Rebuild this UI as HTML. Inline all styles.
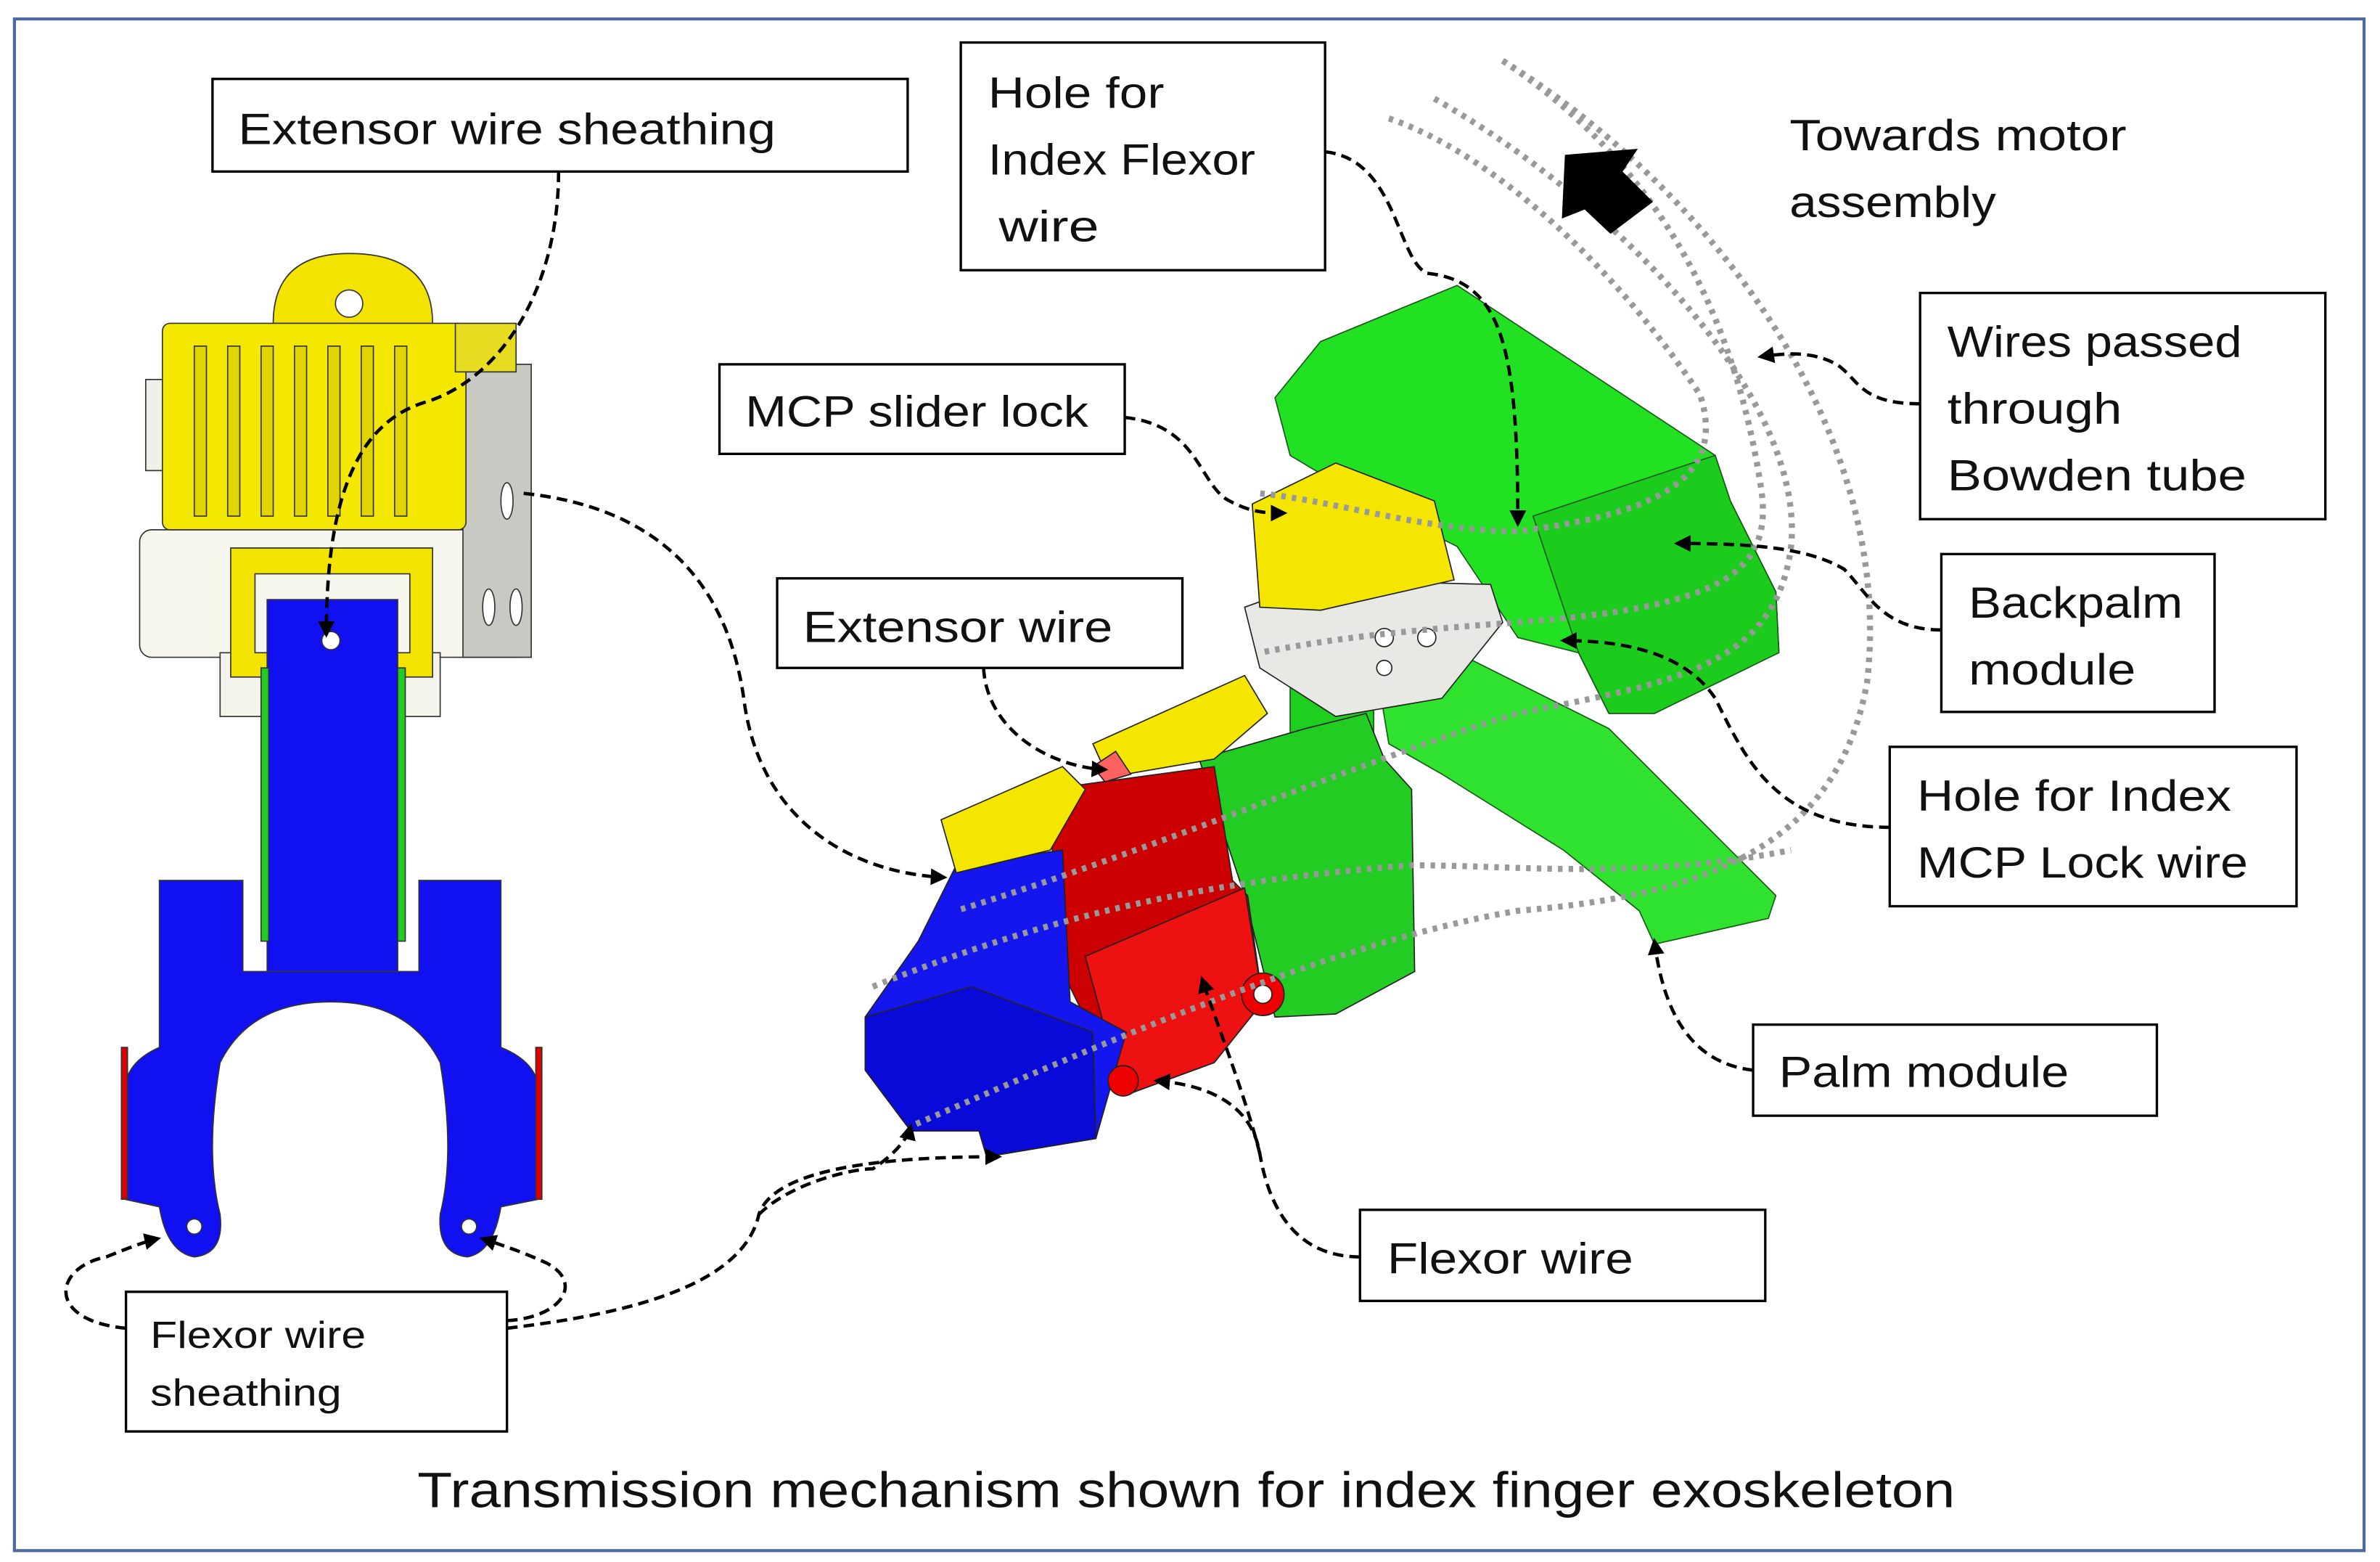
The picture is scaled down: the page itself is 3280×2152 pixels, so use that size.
<!DOCTYPE html>
<html><head><meta charset="utf-8"><style>
html,body{margin:0;padding:0;background:#fff;}
svg{display:block;}
text{font-family:"Liberation Sans",sans-serif;fill:#111;}
</style></head><body>
<svg width="3280" height="2152" viewBox="0 0 1568 1029" preserveAspectRatio="none" xmlns="http://www.w3.org/2000/svg">
<defs>
<marker id="ah" viewBox="0 0 10 10" refX="8" refY="5" markerWidth="5" markerHeight="5" orient="auto-start-reverse"><path d="M0,0 L10,5 L0,10 z" fill="#000"/></marker>
</defs>
<rect x="0" y="0" width="1568" height="1029" fill="#fff"/>
<rect x="9.5" y="12.5" width="1548" height="1009" fill="none" stroke="#4a6aa0" stroke-width="2"/>

<!-- LEFT DEVICE -->
<g stroke="#333" stroke-width="0.8">
<rect x="92" y="349" width="258" height="84" rx="8" fill="#f6f6ee"/>
<rect x="145" y="430" width="145" height="42" fill="#f4f4ec"/>
<rect x="305" y="240" width="45" height="193" fill="#c9c9c4"/>
<rect x="96" y="250" width="12" height="60" fill="#f0f0ea"/>
<path d="M180,213 Q180,167 230,167 Q285,167 285,213 Z" fill="#f2e400"/>
<circle cx="230" cy="200" r="9" fill="#fff"/>
<rect x="107" y="213" width="200" height="136" rx="5" fill="#f5e800"/>
<rect x="300" y="213" width="40" height="32" fill="#e8dc20"/>
<g fill="#e2d400">
<rect x="128" y="228" width="8" height="112"/><rect x="150" y="228" width="8" height="112"/><rect x="172" y="228" width="8" height="112"/><rect x="194" y="228" width="8" height="112"/><rect x="216" y="228" width="8" height="112"/><rect x="238" y="228" width="8" height="112"/><rect x="260" y="228" width="8" height="112"/>
</g>
<ellipse cx="334" cy="330" rx="4" ry="12" fill="#fff"/><ellipse cx="322" cy="400" rx="4" ry="12" fill="#fff"/><ellipse cx="340" cy="400" rx="4" ry="12" fill="#fff"/>
<path d="M152,361 H285 V446 H240 V430 H270 V378 H168 V430 H198 V446 H152 Z" fill="#f2e400"/>
<path d="M176,640 V395 H262 V640 Z" fill="#1010f0"/>
<rect x="172" y="440" width="5" height="180" fill="#22cc22"/><rect x="262" y="440" width="5" height="180" fill="#22cc22"/>
<circle cx="218" cy="422" r="6" fill="#fff"/>
<path d="M105,580 H160 V640 H276 V580 H330 V690 Q355,700 355,720 V790 L330,795 Q325,825 308,828 Q288,826 290,800 Q300,760 290,700 Q270,660 218,660 Q165,660 145,700 Q135,760 145,800 Q148,826 128,828 Q110,825 105,795 L82,790 V720 Q82,700 105,690 Z" fill="#1010f0"/>
<circle cx="128" cy="808" r="5" fill="#fff"/><circle cx="309" cy="808" r="5" fill="#fff"/>
<rect x="80" y="690" width="4" height="100" fill="#d00"/><rect x="353" y="690" width="4" height="100" fill="#d00"/>
</g>

<!-- RIGHT GREEN BACKPALM -->
<g stroke="#1a5a1a" stroke-width="0.8">
<path d="M840,262 L870,225 L960,188 L1130,300 L1140,330 L1170,390 L1172,430 L1150,440 L1090,470 L1060,470 L1040,430 L1000,420 L960,360 L900,330 L850,300 Z" fill="#22e022"/>
<path d="M1010,340 L1130,300 L1140,330 L1170,390 L1172,430 L1090,470 L1060,470 L1040,430 Z" fill="#1ccc1c"/>
<path d="M910,460 L960,430 L1060,480 L1140,560 L1170,590 L1165,605 L1090,622 L1080,600 L1030,560 L950,510 L915,490 Z" fill="#2ee22e"/>
<rect x="850" y="420" width="55" height="110" fill="#1fcf1f"/>
</g>
<!-- MIDDLE DEVICE -->
<g stroke="#222" stroke-width="0.8">
<path d="M790,500 L860,480 L900,470 L912,500 L930,520 L932,640 L880,668 L840,670 L820,590 Z" fill="#22cc22"/>
<path d="M690,520 L800,505 L812,580 L822,590 L832,660 L800,700 L740,722 L700,640 Z" fill="#cc0000"/>
<path d="M715,630 L820,585 L832,660 L800,700 L740,722 Z" fill="#ee1111"/>
<path d="M570,670 L605,620 L630,570 L700,560 L705,660 L742,680 L722,750 L650,762 L645,745 L600,745 L570,705 Z" fill="#1515ee"/>
<path d="M570,670 L640,650 L720,680 L722,750 L650,762 L645,745 L600,745 L570,705 Z" fill="#0a0ad8"/>
<circle cx="740" cy="712" r="10" fill="#e00"/><circle cx="832" cy="655" r="14" fill="#e00"/><circle cx="832" cy="655" r="6" fill="#fff"/>
<path d="M620,540 L700,505 L715,520 L692,560 L630,575 Z" fill="#f5e600"/>
<path d="M720,490 L820,445 L835,470 L800,500 L730,512 Z" fill="#f5e600"/>
<path d="M720,505 L735,495 L745,510 L728,515 Z" fill="#ff6060"/>
<path d="M820,400 L870,382 L982,385 L990,410 L950,460 L880,472 L830,440 Z" fill="#e8e8e4"/>
<path d="M825,332 L880,305 L945,330 L958,382 L870,402 L830,400 Z" fill="#f5e600"/>
<circle cx="912" cy="420" r="6" fill="#fff"/><circle cx="940" cy="420" r="6" fill="#fff"/><circle cx="912" cy="440" r="5" fill="#fff"/>
</g>

<!-- gray dotted wires -->
<g fill="none" stroke="#999" stroke-width="4" stroke-dasharray="3 4">
<path d="M990,40 C1120,120 1250,280 1230,450 C1210,560 1120,590 1000,600 C880,620 720,690 600,742"/>
<path d="M945,65 C1060,130 1190,260 1180,360 C1170,440 1100,450 1000,470 C900,500 760,560 630,600"/>
<path d="M915,78 C980,100 1060,170 1120,260 C1140,320 1080,340 1000,350 C940,350 880,330 830,325"/>
<path d="M990,40 C1080,100 1140,190 1160,320 C1170,380 1130,400 1000,410 C930,415 880,420 830,430"/>
<path d="M575,650 C700,600 800,580 930,570 C1000,570 1080,580 1180,560"/>
</g>

<!-- big arrow -->
<path d="M1031,102 L1079,98 L1069,113 L1089,133 L1061,154 L1044,138 L1029,144 Z" fill="#000"/>

<!-- dashed connectors -->
<g fill="none" stroke="#000" stroke-width="2.2" stroke-dasharray="7 4" marker-end="url(#ah)">
<path d="M368,113 C368,190 330,250 280,265 C230,280 215,340 215,418"/>
<path d="M345,325 C440,335 480,390 490,460 C500,540 560,575 622,578"/>
<path d="M648,440 C650,480 690,505 728,507"/>
<path d="M741,275 C790,280 790,320 810,330 C825,338 835,338 846,338"/>
<path d="M873,100 C920,105 920,170 940,180 C990,185 1000,230 1000,345"/>
<path d="M1265,266 C1225,266 1225,250 1210,240 C1195,232 1180,232 1160,235"/>
<path d="M1279,415 C1240,415 1230,390 1215,375 C1190,360 1150,358 1105,358"/>
<path d="M1245,545 C1170,545 1150,500 1130,460 C1110,430 1070,422 1030,422"/>
<path d="M1155,705 C1110,700 1095,660 1090,620"/>
<path d="M896,828 C850,828 835,790 830,760 C825,730 800,715 762,712"/>
<path d="M830,760 C820,720 800,670 792,645"/>
<path d="M334,875 C420,865 490,845 500,800 C510,770 580,762 658,762"/>
<path d="M500,800 C520,780 560,770 575,770 C590,760 598,750 600,742"/>
<path d="M83,875 C30,870 35,835 70,828 C85,822 95,818 104,816"/>
<path d="M334,870 C370,868 385,845 360,832 C345,825 330,820 318,816"/>
</g>

<!-- label boxes -->
<g fill="#fff" stroke="#000" stroke-width="1.6">
<rect x="140" y="52" width="458" height="61"/>
<rect x="633" y="28" width="240" height="150"/>
<rect x="1265" y="193" width="267" height="149"/>
<rect x="474" y="240" width="267" height="59"/>
<rect x="1279" y="365" width="180" height="104"/>
<rect x="512" y="381" width="267" height="59"/>
<rect x="1245" y="492" width="268" height="105"/>
<rect x="1155" y="675" width="266" height="60"/>
<rect x="896" y="797" width="267" height="60"/>
<rect x="83" y="851" width="251" height="92"/>
</g>
<g font-size="29">
<text x="157" y="95" textLength="354" lengthAdjust="spacingAndGlyphs">Extensor  wire sheathing</text>
<text x="651" y="71" textLength="116" lengthAdjust="spacingAndGlyphs">Hole for</text>
<text x="651" y="115" textLength="176" lengthAdjust="spacingAndGlyphs">Index Flexor</text>
<text x="658" y="159" textLength="66" lengthAdjust="spacingAndGlyphs">wire</text>
<text x="1179" y="99" textLength="222" lengthAdjust="spacingAndGlyphs">Towards motor</text>
<text x="1179" y="143" textLength="136" lengthAdjust="spacingAndGlyphs">assembly</text>
<text x="1283" y="235" textLength="194" lengthAdjust="spacingAndGlyphs">Wires passed</text>
<text x="1283" y="279" textLength="115" lengthAdjust="spacingAndGlyphs">through</text>
<text x="1283" y="323" textLength="197" lengthAdjust="spacingAndGlyphs">Bowden tube</text>
<text x="491" y="281" textLength="226" lengthAdjust="spacingAndGlyphs">MCP slider lock</text>
<text x="1297" y="407" textLength="141" lengthAdjust="spacingAndGlyphs">Backpalm</text>
<text x="1297" y="451" textLength="110" lengthAdjust="spacingAndGlyphs">module</text>
<text x="529" y="423" textLength="204" lengthAdjust="spacingAndGlyphs">Extensor wire</text>
<text x="1263" y="534" textLength="207" lengthAdjust="spacingAndGlyphs">Hole for Index</text>
<text x="1263" y="578" textLength="218" lengthAdjust="spacingAndGlyphs">MCP Lock wire</text>
<text x="1172" y="716" textLength="191" lengthAdjust="spacingAndGlyphs">Palm module</text>
<text x="914" y="839" textLength="162" lengthAdjust="spacingAndGlyphs">Flexor wire</text>
</g>
<g font-size="25">
<text x="99" y="888" textLength="142" lengthAdjust="spacingAndGlyphs">Flexor wire</text>
<text x="99" y="926" textLength="126" lengthAdjust="spacingAndGlyphs">sheathing</text>
</g>
<text x="275" y="993" font-size="33" textLength="1013" lengthAdjust="spacingAndGlyphs">Transmission mechanism shown for index finger exoskeleton</text>
</svg>
</body></html>
